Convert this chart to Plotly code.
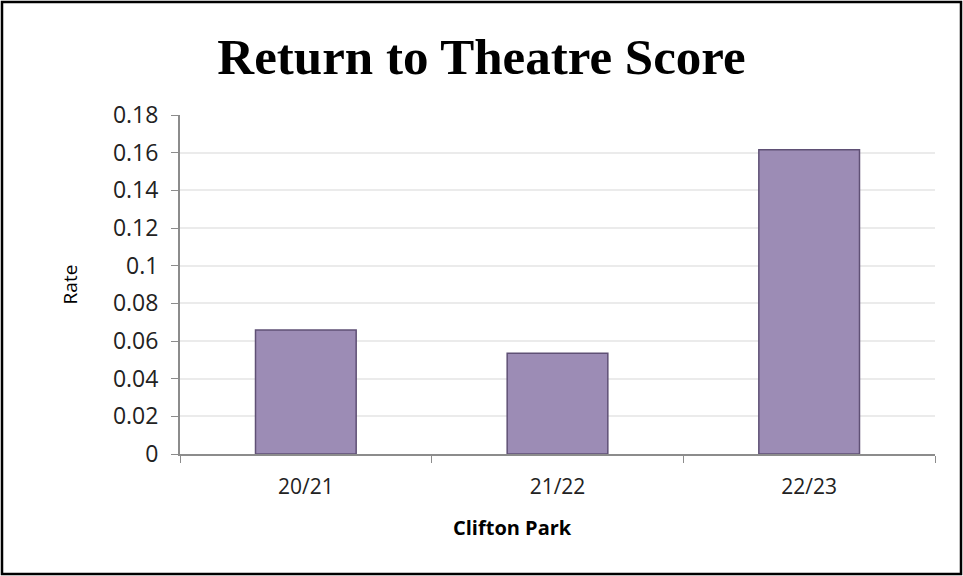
import plotly.graph_objects as go

categories = ["20/21", "21/22", "22/23"]
rates = [0.0658, 0.0535, 0.1615]
y_ticks = [0, 0.02, 0.04, 0.06, 0.08, 0.1, 0.12, 0.14, 0.16, 0.18]
y_tick_labels = ["0", "0.02", "0.04", "0.06", "0.08", "0.1", "0.12", "0.14", "0.16", "0.18"]

fig = go.Figure()
fig.add_trace(go.Bar(
    x=categories, y=rates, width=0.4,
    marker=dict(color="#9C8CB5", line=dict(color="#5F5075", width=1.5)),
))

fig.update_layout(
    width=963, height=576,
    margin=dict(l=180, r=28, t=115, b=122),
    paper_bgcolor="white", plot_bgcolor="white",
    showlegend=False,
    title=dict(text="<b>Return to Theatre Score</b>", x=0.5, xanchor="center",
               y=0.903, yanchor="middle",
               font=dict(family="Liberation Serif, serif", size=51, color="black")),
    font=dict(family="Open Sans, Liberation Sans, sans-serif", color="#222222"),
    shapes=[dict(type="rect", xref="paper", yref="paper", x0=-178/755, x1=1+26/755,
                 y0=-120/339, y1=1+113/339, line=dict(color="black", width=2.5))],
    annotations=[dict(text="<b>Clifton Park</b>", xref="paper", yref="paper",
                      x=(512 - 180) / 755, y=-(527 - 454) / 339,
                      xanchor="center", yanchor="middle", showarrow=False,
                      font=dict(size=20, color="black"))],
)
fig.update_xaxes(
    showline=True, linecolor="#8C8C8C", linewidth=2,
    ticks="outside", tickson="boundaries", ticklen=7, tickcolor="#8C8C8C",
    tickfont=dict(size=21, color="#222222"), ticklabelstandoff=13,
    showgrid=False,
)
fig.update_yaxes(
    range=[0, 0.18], tickvals=y_ticks, ticktext=y_tick_labels,
    showline=True, linecolor="#8C8C8C", linewidth=2,
    ticks="outside", ticklen=7, tickcolor="#8C8C8C",
    tickfont=dict(size=23, color="#222222"), ticklabelstandoff=8,
    showgrid=True, gridcolor="#EBEBEB", gridwidth=1.5,
    zeroline=False,
    title=dict(text="Rate", font=dict(size=19, color="black"), standoff=30),
)

fig.write_html("out.html")
